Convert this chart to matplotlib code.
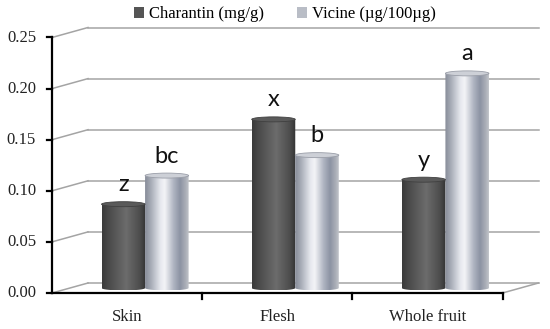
import numpy as np
import matplotlib
matplotlib.use('Agg')
import matplotlib.pyplot as plt
from matplotlib.colors import LinearSegmentedColormap
from matplotlib.patches import PathPatch, Ellipse, Patch
from matplotlib.path import Path

# Chart data
categories = ['Skin', 'Flesh', 'Whole fruit']
charantin = [0.082, 0.165, 0.106]
vicine = [0.110, 0.130, 0.210]
charantin_letters = ['z', 'x', 'y']
vicine_letters = ['bc', 'b', 'a']
series_names = ['Charantin (mg/g)', 'Vicine (\u00b5g/100\u00b5g)']
y_ticks = [0.00, 0.05, 0.10, 0.15, 0.20, 0.25]

# Figure geometry (pixels at dpi 100)
W, H = 550, 329
PX_X = 450.5 / 3          # pixels per category unit
PX_Y = 255.5 / 0.25       # pixels per value unit
HX = 18 / PX_X            # half depth offset, x
HY = 5 / PX_Y             # half depth offset, y
ELL = 2.5 / PX_Y          # cylinder cap semi-height
BAR_W = 0.29

SERIF = 'Liberation Serif'

cmap_char = LinearSegmentedColormap.from_list('char', [
    (0.0, '#3a3a3a'), (0.15, '#4a4a4a'), (0.55, '#6c6c6c'),
    (0.85, '#4e4e4e'), (1.0, '#333333')])
cmap_vic = LinearSegmentedColormap.from_list('vic', [
    (0.0, '#878c99'), (0.12, '#a3a8b3'), (0.35, '#e6e8ee'), (0.45, '#f3f4f7'),
    (0.65, '#b0b5c2'), (0.8, '#8c93a3'), (0.92, '#a9adb6'), (1.0, '#c2c4ca')])


def front(x, y):
    return x - HX, y - HY


def back(x, y):
    return x + HX, y + HY


def draw_cylinder(ax, xc, value, cmap, top_color, top_edge):
    """Draw a shaded cylinder standing on the floor mid-plane"""
    x0, x1 = xc - BAR_W / 2, xc + BAR_W / 2
    t = np.linspace(np.pi, 2 * np.pi, 40)
    arc_x = xc + BAR_W / 2 * np.cos(t)
    arc_y = ELL * np.sin(t)
    verts = list(zip(arc_x, arc_y)) + [(x1, value), (x0, value), (x0, 0)]
    codes = [Path.MOVETO] + [Path.LINETO] * (len(verts) - 2) + [Path.CLOSEPOLY]
    body = PathPatch(Path(verts, codes), facecolor='none', edgecolor='none')
    ax.add_patch(body)
    grad = np.linspace(0, 1, 256).reshape(1, -1)
    im = ax.imshow(grad, extent=[x0, x1, -ELL, value], aspect='auto',
                   cmap=cmap, interpolation='bilinear', zorder=3)
    im.set_clip_path(body)
    ax.add_patch(Ellipse((xc, value), BAR_W, 2 * ELL, facecolor=top_color,
                         edgecolor=top_edge, lw=0.6, zorder=4))


fig = plt.figure(figsize=(W / 100, H / 100), dpi=100)
ax = fig.add_axes([0, 0, 1, 1])
ax.axis('off')

grid_color = '#a4a4a4'

# Back wall gridlines and left wall diagonals
for v in y_ticks:
    bx0, by = back(-0.5, v)
    bx1, _ = back(2.5, v)
    ax.plot([bx0, bx1], [by, by], color=grid_color, lw=1.1, zorder=1)
    fx, fy = front(-0.5, v)
    ax.plot([fx, bx0], [fy, by], color=grid_color, lw=1.1, zorder=1)

# Floor right edge
fx, fy = front(2.5, 0)
bx, by = back(2.5, 0)
ax.plot([fx, bx], [fy, by], color=grid_color, lw=1.1, zorder=1)

# Cylinders with significance letters
for i, cat in enumerate(categories):
    xc_c = i - BAR_W / 2
    xc_v = i + BAR_W / 2
    draw_cylinder(ax, xc_c, charantin[i], cmap_char, '#5a5a5a', '#404040')
    draw_cylinder(ax, xc_v, vicine[i], cmap_vic, '#cdd0d7', '#9a9ea8')
    ax.text(xc_c, charantin[i] + 9 / PX_Y, charantin_letters[i], ha='center',
            va='bottom', fontsize=17, family='Lato', color='#111111', zorder=6)
    ax.text(xc_v, vicine[i] + 9 / PX_Y, vicine_letters[i], ha='center',
            va='bottom', fontsize=17, family='Lato', color='#111111', zorder=6)

# Front axes (black)
x_left, y0 = front(-0.5, 0)
x_right, _ = front(2.5, 0)
_, y_top = front(-0.5, 0.25)
ax.plot([x_left, x_right], [y0, y0], color='black', lw=1.6, zorder=5,
        solid_capstyle='projecting')
ax.plot([x_left, x_left], [y0, y_top], color='black', lw=1.6, zorder=5,
        solid_capstyle='projecting')

for v in y_ticks:
    fx, fy = front(-0.5, v)
    ax.plot([fx - 5 / PX_X, fx], [fy, fy], color='black', lw=1.6, zorder=5)
    ax.text(fx - 16 / PX_X, fy, f'{v:.2f}', ha='right', va='center',
            fontsize=12, family=SERIF, color='#222222')

for b in [0.5, 1.5, 2.5]:
    fx, fy = front(b, 0)
    ax.plot([fx, fx], [fy, fy - 6 / PX_Y], color='black', lw=1.6, zorder=5)

for i, cat in enumerate(categories):
    fx, fy = front(i, 0)
    ax.text(fx, fy - 24 / PX_Y, cat, ha='center', va='center',
            fontsize=12, family=SERIF, color='#222222')

# Axis limits so that data units map to the measured pixel layout
ax.set_xlim(-0.5 - 70 / PX_X, 2.5 + (W - 520.5) / PX_X)
ax.set_ylim(-41 / PX_Y, 0.25 + (H - 41 - 255.5) / PX_Y)

# Legend
handles = [Patch(facecolor='#555555', edgecolor='none'),
           Patch(facecolor='#b9bdc6', edgecolor='none')]
fig.legend(handles, series_names, loc='center', bbox_to_anchor=(0.518, 0.957),
           ncol=2, frameon=False, handlelength=0.6, handleheight=0.6,
           handletextpad=0.3, columnspacing=2.0,
           prop={'family': SERIF, 'size': 12})

fig.savefig('out.png', dpi=100, facecolor='white')
